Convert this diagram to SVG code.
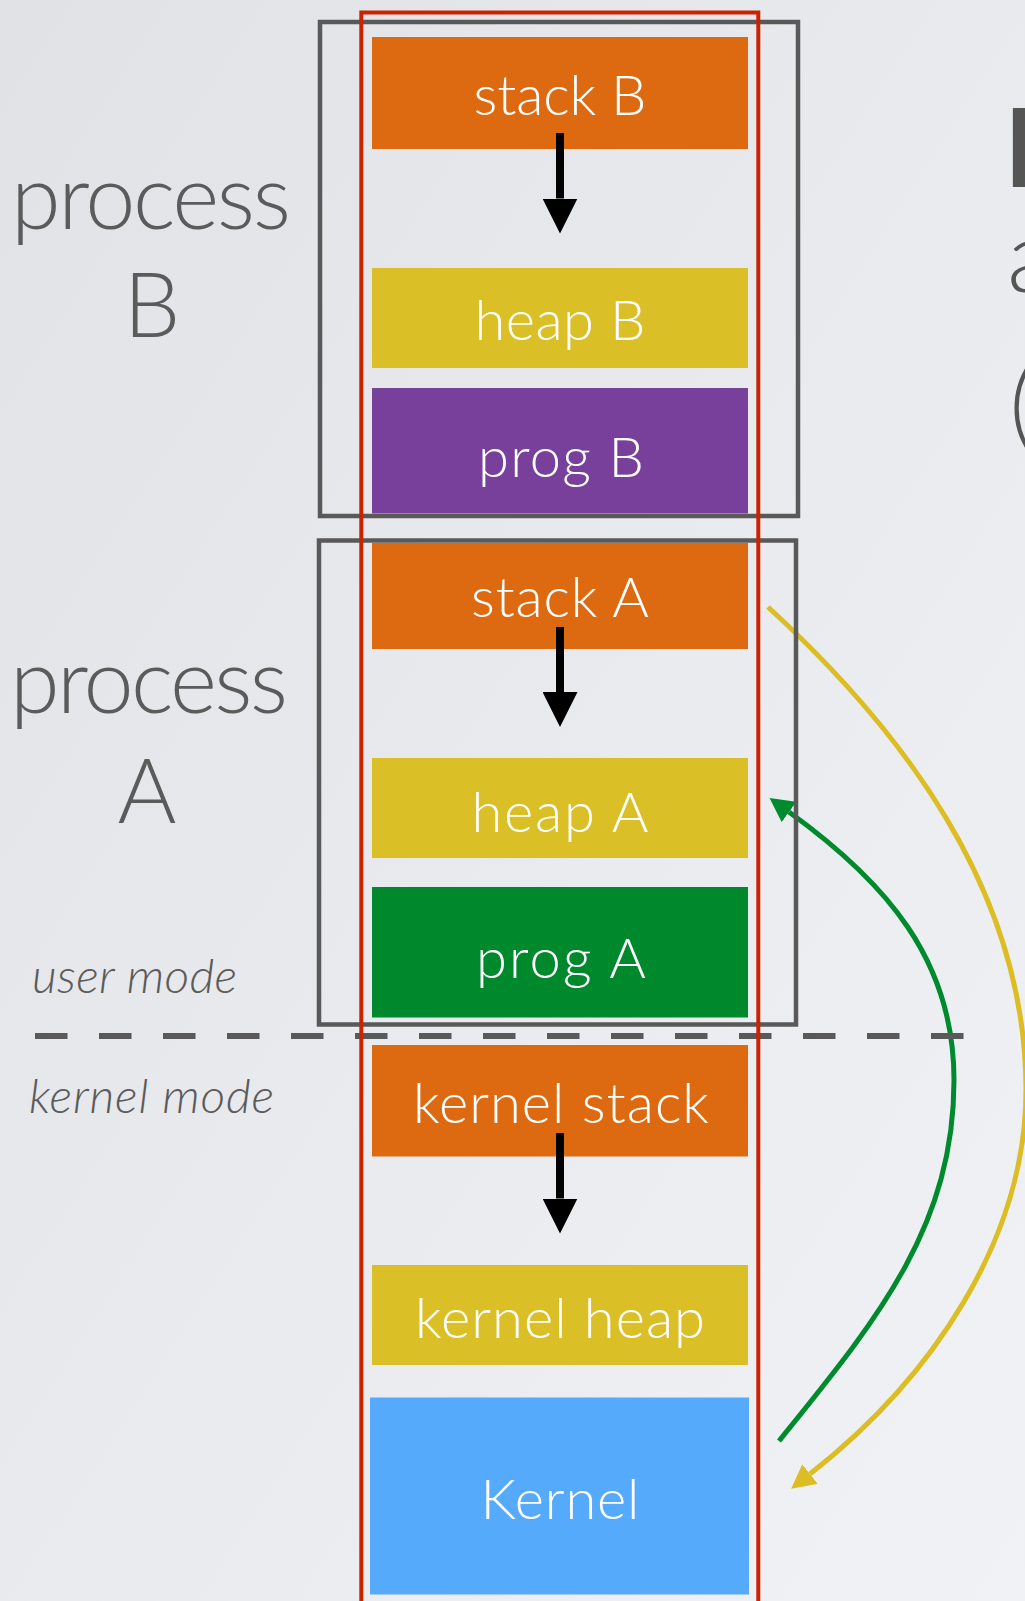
<svg xmlns="http://www.w3.org/2000/svg" width="1025" height="1601" viewBox="0 0 1025 1601">
  <defs>
    <linearGradient id="bg" x1="0" y1="0" x2="1" y2="1">
      <stop offset="0" stop-color="#e0e2e6"/>
      <stop offset="1" stop-color="#f1f2f5"/>
    </linearGradient>
    <marker id="head-black" markerUnits="userSpaceOnUse" markerWidth="35" markerHeight="35" refX="0" refY="17.5" orient="auto">
      <path d="M0,0 L35,17.5 L0,35 Z" fill="#000"/>
    </marker>
    <marker id="head-yellow" markerUnits="userSpaceOnUse" markerWidth="24" markerHeight="25" refX="0" refY="12.5" orient="auto">
      <path d="M0,0 L24,12.5 L0,25 Z" fill="#dcbd24"/>
    </marker>
    <marker id="head-green" markerUnits="userSpaceOnUse" markerWidth="24" markerHeight="25" refX="0" refY="12.5" orient="auto">
      <path d="M0,0 L24,12.5 L0,25 Z" fill="#008a2e"/>
    </marker>
    <style>
      .seg-label { font-family: Lato, "Open Sans", sans-serif; font-weight: 300; font-size: 56px; fill: #ffffff; text-anchor: middle; }
      .side-label { font-family: Lato, "Open Sans", sans-serif; font-weight: 300; font-size: 90px; fill: #5b5b5b; }
      .mode-label { font-family: Lato, "Open Sans", sans-serif; font-weight: 300; font-style: italic; font-size: 48px; fill: #5b5b5b; }
      .title { font-family: Lato, "Open Sans", sans-serif; fill: #555555; }
      .frame { fill: none; stroke: #595959; stroke-width: 4.5; }
      .space { fill: none; stroke: #cc2200; stroke-width: 4; }
      .stack { fill: #dd6a10; }
      .heap { fill: #dbbf26; }
      .grow { stroke: #000; stroke-width: 8; fill: none; }
      .flow { fill: none; stroke-width: 5; }
    </style>
  </defs>

  <!-- slide background -->
  <rect x="0" y="0" width="1025" height="1601" fill="url(#bg)"/>

  <!-- slide title, running off the right edge -->
  <g id="title">
    <text class="title" x="1004" y="187" font-size="110" font-weight="700">I</text>
    <text class="title" x="1007" y="292" font-size="100" font-weight="300">a</text>
    <text class="title" x="1009" y="440" font-size="100" font-weight="300">(</text>
  </g>

  <!-- memory segments -->
  <g id="stack-b">
    <rect class="stack" x="372" y="37" width="376" height="112"/>
    <text class="seg-label" x="560" y="115" textLength="173">stack B</text>
  </g>
  <g id="heap-b">
    <rect class="heap" x="372" y="268" width="376" height="100"/>
    <text class="seg-label" x="560" y="340" textLength="171">heap B</text>
  </g>
  <g id="prog-b">
    <rect x="372" y="388" width="376" height="125.5" fill="#78409b"/>
    <text class="seg-label" x="561" y="477" textLength="166">prog B</text>
  </g>
  <g id="stack-a">
    <rect class="stack" x="372" y="543" width="376" height="106"/>
    <text class="seg-label" x="560" y="617" textLength="178">stack A</text>
  </g>
  <g id="heap-a">
    <rect class="heap" x="372" y="758" width="376" height="100"/>
    <text class="seg-label" x="560" y="832" textLength="177">heap A</text>
  </g>
  <g id="prog-a">
    <rect x="372" y="887" width="376" height="130.5" fill="#00882d"/>
    <text class="seg-label" x="561" y="978" textLength="170">prog A</text>
  </g>
  <g id="kernel-stack">
    <rect class="stack" x="372" y="1045" width="376" height="111.5"/>
    <text class="seg-label" x="561" y="1123" textLength="296">kernel stack</text>
  </g>
  <g id="kernel-heap">
    <rect class="heap" x="372" y="1265" width="376" height="100"/>
    <text class="seg-label" x="560" y="1338" textLength="290">kernel heap</text>
  </g>
  <g id="kernel">
    <rect x="370" y="1397.5" width="379" height="197" fill="#55aafb"/>
    <text class="seg-label" x="560" y="1519" textLength="159">Kernel</text>
  </g>

  <!-- growth arrows and control transfers -->
  <g id="connectors">
    <line class="grow" x1="560" y1="133" x2="560" y2="198.5" marker-end="url(#head-black)"/>
    <line class="grow" x1="560" y1="627" x2="560" y2="692" marker-end="url(#head-black)"/>
    <line class="grow" x1="560" y1="1133" x2="560" y2="1198.5" marker-end="url(#head-black)"/>
    <path class="flow" stroke="#dcbd24" d="M768,607 C900.7,728.7 1026,890 1026,1090 C1026,1240 931,1379 810,1474" marker-end="url(#head-yellow)"/>
    <path class="flow" stroke="#008a2e" d="M779,1441 C873,1324 954,1230 954,1080 C954,960 886,882 789,812" marker-end="url(#head-green)"/>
  </g>

  <!-- process frames -->
  <g id="process-b">
    <rect class="frame" x="320" y="22" width="478" height="494"/>
    <text class="side-label" x="11" y="229" textLength="280">process</text>
    <text class="side-label" x="152" y="337" text-anchor="middle">B</text>
  </g>
  <g id="process-a">
    <rect class="frame" x="319" y="540.5" width="477" height="484"/>
    <text class="side-label" x="10" y="713" textLength="278">process</text>
    <text class="side-label" x="147" y="823" text-anchor="middle">A</text>
  </g>

  <!-- privilege boundary -->
  <g id="mode-boundary">
    <line x1="35" y1="1036" x2="964" y2="1036" stroke="#595959" stroke-width="6" stroke-dasharray="32.5 31.5"/>
    <text class="mode-label" x="32" y="993" textLength="205">user mode</text>
    <text class="mode-label" x="29" y="1113" textLength="245">kernel mode</text>
  </g>

  <!-- address space outline -->
  <g id="address-space">
    <rect class="space" x="361.3" y="12.5" width="397" height="1620"/>
  </g>
</svg>
